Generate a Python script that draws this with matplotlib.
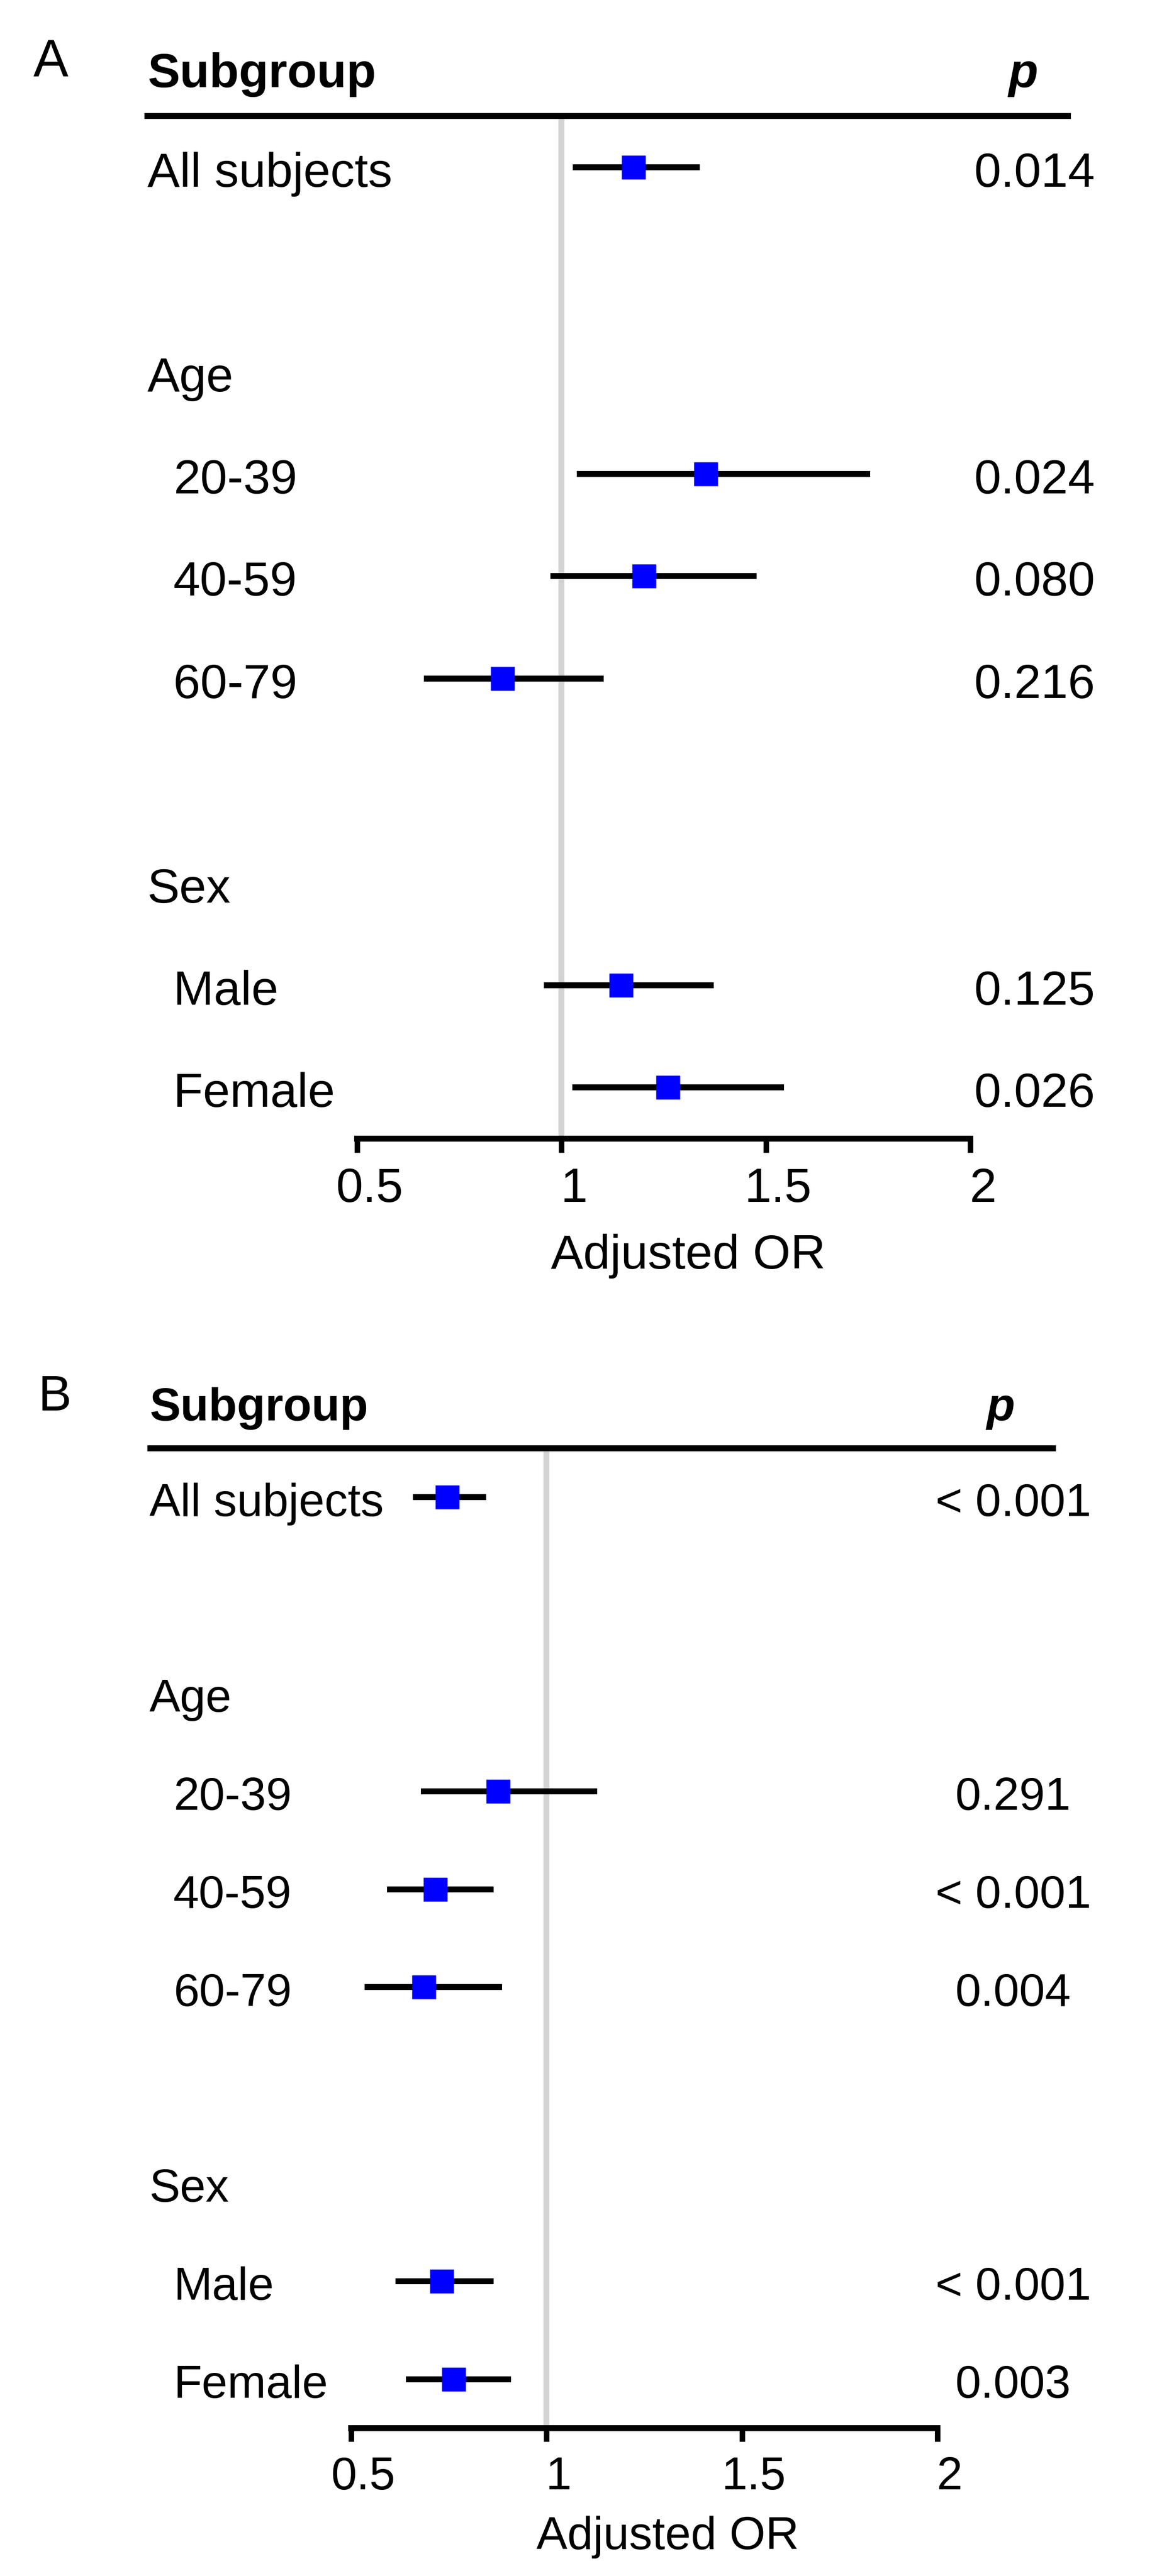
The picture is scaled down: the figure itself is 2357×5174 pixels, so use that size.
import matplotlib
matplotlib.use("Agg")
import matplotlib.pyplot as plt
import matplotlib.transforms as mtransforms
from matplotlib.lines import Line2D

plt.rcParams['font.family'] = ['Liberation Sans', 'DejaVu Sans']

# --- dados ---
subgrupos = ["All subjects", "20-39", "40-59", "60-79", "Male", "Female"]
grupos = ["Age", "Sex"]
ticks = [0.5, 1, 1.5, 2]
tick_labels = ["0.5", "1", "1.5", "2"]

or_a = [1.176, 1.353, 1.202, 0.856, 1.146, 1.260]
lo_a = [1.028, 1.037, 0.973, 0.663, 0.957, 1.026]
hi_a = [1.338, 1.755, 1.477, 1.103, 1.372, 1.544]
p_a = ["0.014", "0.024", "0.080", "0.216", "0.125", "0.026"]

or_b = [0.746, 0.876, 0.716, 0.686, 0.732, 0.762]
lo_b = [0.658, 0.678, 0.592, 0.534, 0.613, 0.640]
hi_b = [0.846, 1.130, 0.865, 0.886, 0.865, 0.909]
p_b = ["< 0.001", "0.291", "< 0.001", "0.004", "< 0.001", "0.003"]

# posicao das linhas (layout)
linhas_sub = [0, 3, 4, 5, 8, 9]
recuo_sub = [False, True, True, True, True, True]
linhas_grupo = [2, 7]

W, H = 2357, 5174
fig = plt.figure(figsize=(W / 100, H / 100), dpi=100)


def fx(px):
    return px / W


def fy(py):
    return 1 - py / H


def painel(letra, lay, oddsr, lo, hi, pvals):
    s = lay['escala']
    fs = 70 * s
    lw = 8.6
    x0, x1, y0, y1 = lay['x0'], lay['x1'], lay['topo'], lay['eixo']
    ax = fig.add_axes([fx(x0), fy(y1), fx(x1) - fx(x0), (y1 - y0) / H])
    ax.set_xlim(0.5, 2)
    ax.set_ylim(9.5, -0.5)
    ax.patch.set_alpha(0)
    for lado in ['top', 'left', 'right']:
        ax.spines[lado].set_visible(False)
    ax.spines['bottom'].set_linewidth(lw)
    ax.spines['bottom'].set_capstyle('projecting')
    ax.set_yticks([])
    ax.set_xticks(ticks)
    ax.set_xticklabels([])
    ax.tick_params(axis='x', direction='out', length=20 * s, width=8, color='black')

    # linha de referencia
    ax.axvline(1, color='#D3D3D3', lw=lw, zorder=1, clip_on=False)

    # intervalos e pontos
    ax.hlines(linhas_sub, lo, hi, color='black', lw=lw, zorder=3, capstyle='butt')
    ax.plot(oddsr, linhas_sub, 's', ms=34.6, color='#0000FF', mec='none', zorder=4)

    # textos das linhas
    desce = mtransforms.ScaledTranslation(0, -39 * s / 100, fig.dpi_scale_trans)
    tr = mtransforms.blended_transform_factory(fig.transFigure, ax.transData) + desce
    for nome, y, rec, p in zip(subgrupos, linhas_sub, recuo_sub, pvals):
        xl = lay['x_sub'] if rec else lay['x_lab']
        ax.text(fx(xl), y, nome, transform=tr, fontsize=fs, va='baseline', ha='left')
        ax.text(fx(lay['x_p']), y, p, transform=tr, fontsize=fs, va='baseline', ha='center')
    for nome, y in zip(grupos, linhas_grupo):
        ax.text(fx(lay['x_lab']), y, nome, transform=tr, fontsize=fs, va='baseline', ha='left')

    # rotulos do eixo x
    desl = mtransforms.ScaledTranslation(25 * s / 100, -lay['queda_tick'] / 100, fig.dpi_scale_trans)
    trt = mtransforms.blended_transform_factory(ax.transData, ax.transAxes) + desl
    for v, t in zip(ticks, tick_labels):
        ax.text(v, 0, t, transform=trt, fontsize=fs, ha='center', va='baseline')
    desl2 = mtransforms.ScaledTranslation(0, -lay['queda_rotulo'] / 100, fig.dpi_scale_trans)
    ax.text(0.54, 0, "Adjusted OR", transform=ax.transAxes + desl2, fontsize=fs,
            ha='center', va='baseline')

    # cabecalho
    fig.add_artist(Line2D([fx(lay['lin0']), fx(lay['lin1'])], [fy(y0), fy(y0)],
                          color='black', lw=lw, solid_capstyle='butt'))
    fig.text(fx(lay['x_lab']), fy(lay['base_cab']), "Subgroup", fontsize=fs,
             weight='bold', va='baseline', ha='left')
    fig.text(fx(lay['x_pcab']), fy(lay['base_cab']), "p", fontsize=fs,
             weight='bold', style='italic', va='baseline', ha='left')
    fig.text(fx(lay['x_letra']), fy(lay['base_letra']), letra, fontsize=lay['fs_letra'],
             va='baseline', ha='left')
    return ax


lay_a = dict(escala=1.0, x0=717, x1=1948, topo=233, eixo=2287, x_lab=296, x_sub=348,
             x_p=2077, queda_tick=127, queda_rotulo=261, lin0=290, lin1=2150,
             base_cab=175, x_pcab=2024, x_letra=67, base_letra=154, fs_letra=76)
lay_b = dict(escala=0.957, x0=705, x1=1882, topo=2909, eixo=4877, x_lab=300, x_sub=348,
             x_p=2034, queda_tick=123, queda_rotulo=243, lin0=296, lin1=2120,
             base_cab=2853, x_pcab=1980, x_letra=77, base_letra=2833, fs_letra=72)

painel("A", lay_a, or_a, lo_a, hi_a, p_a)
painel("B", lay_b, or_b, lo_b, hi_b, p_b)

fig.savefig("out.png", dpi=100, facecolor='white')
